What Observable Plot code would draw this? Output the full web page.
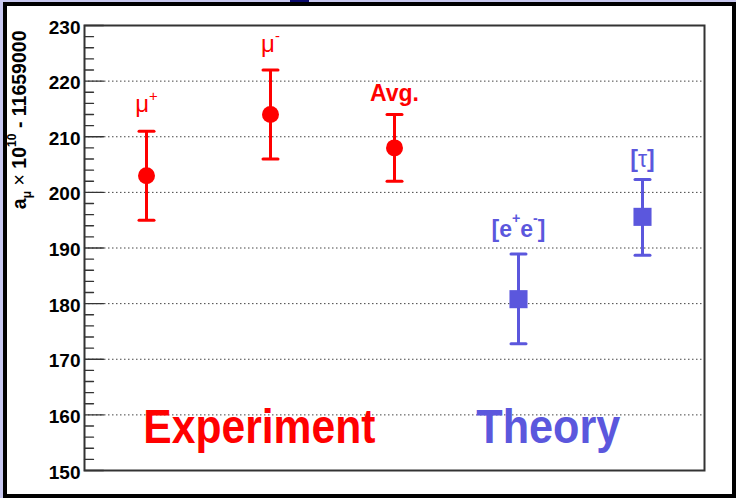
<!DOCTYPE html>
<html><head><meta charset="utf-8">
<script src="https://cdn.jsdelivr.net/npm/d3@7"></script>
<script src="https://cdn.jsdelivr.net/npm/@observablehq/plot@0.6"></script>
<style>
html,body{margin:0;padding:0;}
body{width:736px;height:498px;background:#c8c8f0;position:relative;overflow:hidden;font-family:"Liberation Sans",Arial,Helvetica,sans-serif;}
#border{position:absolute;left:3px;top:2px;width:733px;height:496px;box-sizing:border-box;border:4px solid #000;background:#fff;}
#tab{position:absolute;left:290px;top:0;width:19px;height:2px;background:#0a0a6e;}
#chart{position:absolute;left:0;top:0;}
</style></head><body>
<div id="border"></div><div id="tab"></div><div id="chart"></div>
<script>
// ---- data ----
const expLabels = ["μ^{+}", "μ^{-}", "Avg."];
const expX = [1, 2, 3];
const expValues = [203, 214, 208];
const expLow = [195, 206, 202];
const expHigh = [211, 222, 214];
const expLabelY = [214.4, 225.2, 216.4];

const thLabels = ["[e^{+}e^{-}]", "[~{τ}]"];
const thX = [4, 5];
const thValues = [180.8, 195.6];
const thLow = [172.8, 188.7];
const thHigh = [188.9, 202.3];
const thLabelY = [192.0, 204.5];

const groupNames = ["Experiment", "Theory"];
const groupX = [1.91, 4.24];
const groupY = [154.9, 154.9];
const groupColors = ["#ff0000", "#5b57dd"];
const groupWidths = [232, 144];

const yMajorTicks = [150, 160, 170, 180, 190, 200, 210, 220, 230];
const yGridLines = [160, 170, 180, 190, 200, 210, 220];
const yMinorTicks = d3.range(150, 231, 2).filter(v => v % 10 !== 0);
const yTitle = "a_{μ}~{ × }10^{10} - 11659000";

// ---- build ----
const red = "#ff0000", blue = "#5b57dd";
const exp = expX.map((x, i) => ({x, v: expValues[i], lo: expLow[i], hi: expHigh[i], label: expLabels[i], ly: expLabelY[i]}));
const th = thX.map((x, i) => ({x, v: thValues[i], lo: thLow[i], hi: thHigh[i], label: thLabels[i], ly: thLabelY[i]}));
const groups = groupNames.map((name, i) => ({name, x: groupX[i], y: groupY[i], color: groupColors[i]}));
const isGreek = d => d.label.startsWith("μ");

const capShape = {draw(c, l) { c.moveTo(-l / 2, 0); c.lineTo(l / 2, 0); }};
const tickShape = {draw(c, l) { c.moveTo(0, 0); c.lineTo(l, 0); }};

function errMarks(data, color, sw) {
  return [
    Plot.ruleX(data, {x: "x", y1: "lo", y2: "hi", stroke: color, strokeWidth: sw}),
    Plot.vector(data, {x: "x", y: "hi", length: 15, shape: capShape, anchor: "start", stroke: color, strokeWidth: sw, fill: "none"}),
    Plot.vector(data, {x: "x", y: "lo", length: 15, shape: capShape, anchor: "start", stroke: color, strokeWidth: sw, fill: "none"})
  ];
}

const plot = Plot.plot({
  width: 736, height: 498,
  marginLeft: 84, marginRight: 32, marginTop: 25, marginBottom: 28,
  style: {background: "transparent", fontFamily: "'Liberation Sans', Arial, Helvetica, sans-serif", overflow: "visible"},
  x: {domain: [0.5, 5.5], axis: null},
  y: {domain: [150, 230], axis: null},
  marks: [
    Plot.ruleY(yGridLines, {y: d => d, stroke: "#444", strokeDasharray: "1.5,2.5", strokeWidth: 1}),
    Plot.vector(yMinorTicks, {y: d => d, frameAnchor: "left", length: 9, shape: tickShape, anchor: "start", stroke: "#333", strokeWidth: 1.3, fill: "none"}),
    Plot.vector(yMajorTicks, {y: d => d, frameAnchor: "left", length: 19, shape: tickShape, anchor: "start", stroke: "#333", strokeWidth: 1.3, fill: "none"}),
    Plot.text(yMajorTicks, {y: d => d, frameAnchor: "left", text: d => String(d), textAnchor: "end", dx: -4, dy: 2, fontSize: 19, fontWeight: "bold", fill: "#000"}),
    Plot.text([yTitle], {frameAnchor: "top-left", rotate: -90, textAnchor: "end", lineAnchor: "bottom", dx: -58.5, dy: 5, fontSize: 19.5, fontWeight: "bold", fill: "#000"}),
    Plot.frame({stroke: "#333", strokeWidth: 2}),
    ...errMarks(exp, red, 3),
    ...errMarks(th, blue, 3),
    Plot.dot(exp, {x: "x", y: "v", r: 8.5, fill: red}),
    Plot.dot(th, {x: "x", y: "v", r: 10.2, symbol: "square", fill: blue}),
    Plot.text(exp.filter(isGreek), {x: "x", y: "ly", text: "label", lineAnchor: "bottom", fontSize: 24, fill: red, fontWeight: "normal"}),
    Plot.text(exp.filter(d => !isGreek(d)), {x: "x", y: "ly", text: "label", lineAnchor: "bottom", fontSize: 23, fill: red, fontWeight: "bold"}),
    Plot.text(th, {x: "x", y: "ly", text: "label", lineAnchor: "bottom", fontSize: 23, fill: blue, fontWeight: "bold"}),
    Plot.text(groups, {x: "x", y: "y", text: "name", lineAnchor: "bottom", fontSize: 49, fontWeight: "bold", fill: "color"})
  ]
});
document.getElementById("chart").appendChild(plot);

// ---- rich text (super/subscripts) ----
function parseRich(s) {
  const segs = []; let i = 0, buf = "";
  while (i < s.length) {
    const c = s[i];
    if ((c === "^" || c === "_" || c === "~") && s[i + 1] === "{") {
      if (buf) { segs.push({t: buf, k: ""}); buf = ""; }
      const j = s.indexOf("}", i + 2);
      segs.push({t: s.slice(i + 2, j), k: c});
      i = j + 1;
    } else { buf += c; i++; }
  }
  if (buf) segs.push({t: buf, k: ""});
  return segs;
}
d3.select(plot).selectAll("text").each(function () {
  const el = this;
  const s = el.textContent;
  if (!/[\^_~]\{/.test(s)) return;
  const fs = parseFloat(getComputedStyle(el).fontSize);
  const raise = s === yTitle ? 0.5 : (s.startsWith("μ") ? 0.45 : 0.62);
  const segs = parseRich(s);
  el.textContent = "";
  let cur = 0;
  for (const g of segs) {
    const ts = d3.select(el).append("tspan").text(g.t);
    let target = 0;
    if (g.k === "^") { target = -raise * fs; ts.style("font-size", (0.62 * fs) + "px"); }
    else if (g.k === "_") { target = 0.28 * fs; ts.style("font-size", (0.62 * fs) + "px"); }
    if (g.k === "~") ts.style("font-weight", "normal");
    const dy = target - cur;
    if (dy !== 0) ts.attr("dy", dy);
    cur = target;
  }
});
// group labels: match the narrower lettering of the original
d3.select(plot).selectAll("text").each(function () {
  const idx = groupNames.indexOf(this.textContent);
  if (idx >= 0) {
    this.setAttribute("textLength", groupWidths[idx]);
    this.setAttribute("lengthAdjust", "spacingAndGlyphs");
  }
});
</script>
</body></html>
